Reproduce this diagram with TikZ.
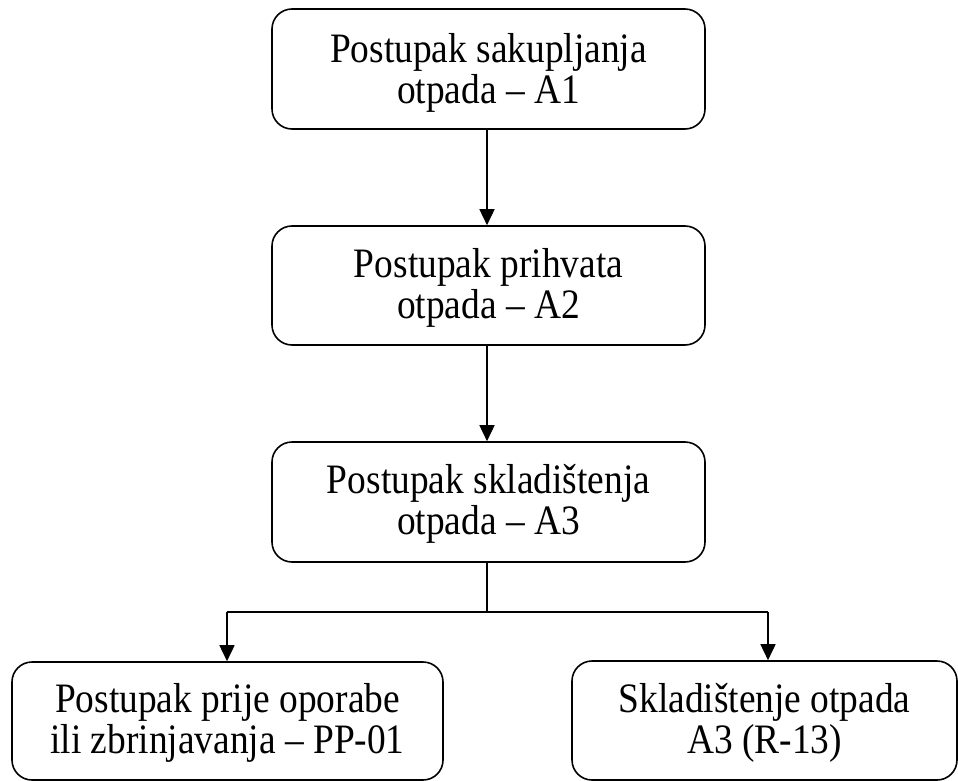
\documentclass[tikz,border=0pt]{standalone}
\usepackage{fontspec}
\setmainfont{Liberation Serif}
\usepackage{graphicx}
\usetikzlibrary{arrows.meta}
\newcommand{\stagetext}[3][-3.5pt]{\raisebox{#1}[\height][\depth]{\scalebox{1}[1.12]{\fontsize{37.4}{35.7}\selectfont\begin{tabular}{@{}c@{}}#2\\#3\end{tabular}}}}
\begin{document}
\begin{tikzpicture}[x=1pt,y=-1pt,
  stagebox/.style={draw=black, line width=1.6pt, rounded corners=20pt, align=center,
    inner sep=0pt},
  flow/.style={draw=black, line width=1.6pt, -{Triangle[length=16pt,width=15pt]}},
  plain/.style={draw=black, line width=1.6pt}]
\useasboundingbox (0,0) rectangle (958,781);
\node[stagebox, minimum width=433pt, minimum height=120pt] (b1) at (488.5,69) {\stagetext[-5pt]{Postupak sakupljanja}{otpada -- A1}};
\node[stagebox, minimum width=433pt, minimum height=119pt] (b2) at (488.5,285.5) {\stagetext{Postupak prihvata}{otpada -- A2}};
\node[stagebox, minimum width=433pt, minimum height=120pt] (b3) at (488.5,502) {\stagetext{Postupak skladištenja}{otpada -- A3}};
\node[stagebox, minimum width=431pt, minimum height=118pt] (b4) at (227.5,721) {\stagetext{Postupak prije oporabe}{ili zbrinjavanja -- PP-01}};
\node[stagebox, minimum width=385pt, minimum height=119pt] (b5) at (764.5,720.5) {\stagetext{Skladištenje otpada}{A3 (R-13)}};
\coordinate (j) at (487,612);
\coordinate (jl) at (227,612);
\coordinate (jr) at (768,612);
\draw[flow] (b1.south -| j) -- (b2.north -| j);
\draw[flow] (b2.south -| j) -- (b3.north -| j);
\draw[plain] (b3.south -| j) -- (j);
\draw[plain] (jl) -- (jr);
\draw[flow] (jl) -- (jl |- b4.north);
\draw[flow] (jr) -- (jr |- b5.north);
\end{tikzpicture}
\end{document}
